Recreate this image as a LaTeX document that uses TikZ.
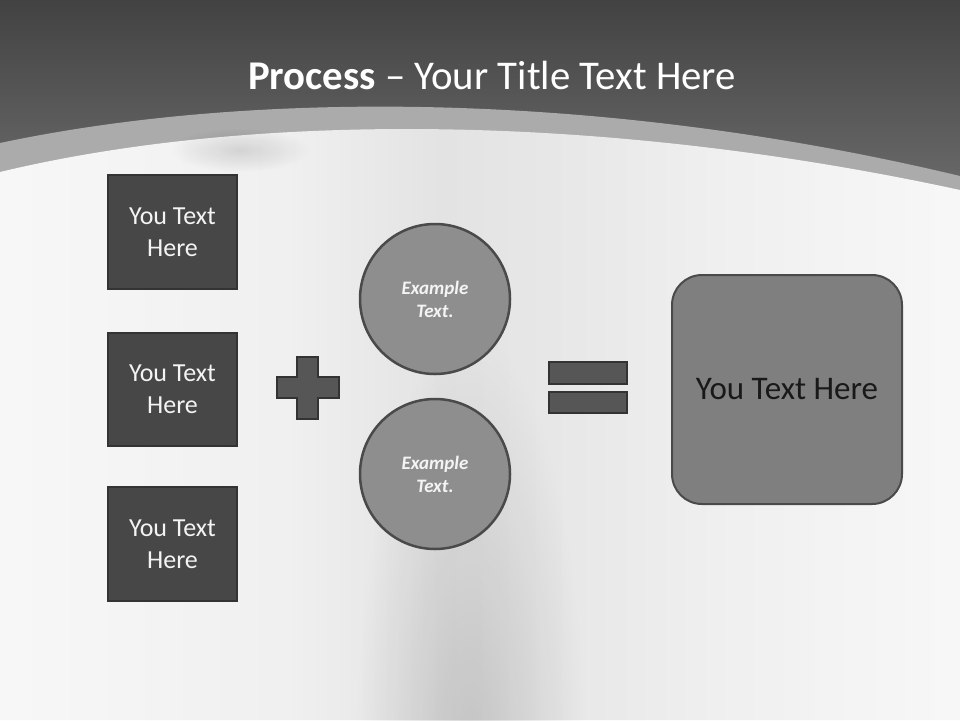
\documentclass[tikz,border=0pt]{standalone}
\usepackage{fontspec}
\setmainfont{Carlito}
\usetikzlibrary{fadings}
\definecolor{boxdark}{HTML}{474747}
\definecolor{boxedge}{HTML}{333333}
\definecolor{circfill}{HTML}{8E8E8E}
\definecolor{circedge}{HTML}{4A4A4A}
\definecolor{bigfill}{HTML}{7F7F7F}
\definecolor{bandgray}{HTML}{ABABAB}
\definecolor{txtwhite}{HTML}{F4F4F4}
\pgfdeclarehorizontalshading{bodyshade}{100bp}{
  color(0bp)=(white!97!black);
  color(25bp)=(white!97!black);
  color(40bp)=(white!94!black);
  color(48bp)=(white!89!black);
  color(55bp)=(white!91!black);
  color(63bp)=(white!94!black);
  color(75bp)=(white!97!black);
  color(100bp)=(white!97!black)}
\tikzfading[name=softcirc, inner color=transparent!0, outer color=transparent!100]
\tikzset{
  leftbox/.style={draw=boxedge, line width=2pt, fill=boxdark, minimum width=129pt,
    minimum height=114pt, inner sep=0pt, align=center, text=txtwhite,
    font=\fontsize{26}{32}\selectfont},
  circ/.style={circle, draw=circedge, line width=2.5pt, fill=circfill, minimum size=150pt,
    inner sep=0pt, align=center, text=txtwhite,
    font=\fontsize{19}{23}\selectfont\bfseries\itshape},
  bigbox/.style={draw=circedge, line width=2pt, fill=bigfill, rounded corners=30pt,
    minimum width=230pt, minimum height=229pt, inner sep=0pt, text=black!90,
    font=\fontsize{33}{38}\selectfont},
  signshape/.style={draw=boxedge, line width=2pt, fill=boxdark!92!white},
}
\begin{document}
\begin{tikzpicture}[x=1pt,y=-1pt]
\useasboundingbox (0,0) rectangle (960,720);
% top dark band
\shade[top color=black!74, bottom color=black!57] (0,0) rectangle (960,210);
% light grey band
\fill[bandgray] (0,143) .. controls (250,90) and (600,90) .. (960,176) -- (960,210) -- (0,210) -- cycle;
% body
\shade[shading=bodyshade] (0,172) .. controls (250,112) and (600,112) .. (960,190) -- (960,720) -- (0,720) -- cycle;
% soft shadows
\fill[black, opacity=0.14, path fading=softcirc] (470,760) ellipse (115 and 430);
\fill[black, opacity=0.12, path fading=softcirc] (240,150) ellipse (70 and 22);
% title
\node (title) at (492,75) {\color{white}\fontsize{40.8}{48}\selectfont\textbf{Process} -- Your Title Text Here};
% left boxes
\node[leftbox] (b1) at (172.5,232) {You Text\\Here};
\node[leftbox, minimum height=113pt] (b2) at (172.5,389.5) {You Text\\Here};
\node[leftbox] (b3) at (172.5,544) {You Text\\Here};
% plus
\draw[signshape] (297,357) -- (318,357) -- (318,377) -- (339,377) -- (339,398) -- (318,398)
  -- (318,419) -- (297,419) -- (297,398) -- (277,398) -- (277,377) -- (297,377) -- cycle;
% circles
\node[circ] (c1) at (435,299) {Example\\Text.};
\node[circ] (c2) at (435,474) {Example\\Text.};
% equals
\draw[signshape] (549,362) rectangle (627,384);
\draw[signshape] (549,392) rectangle (627,413);
% big box
\node[bigbox] (big) at (787,389.5) {You Text Here};
\end{tikzpicture}
\end{document}
